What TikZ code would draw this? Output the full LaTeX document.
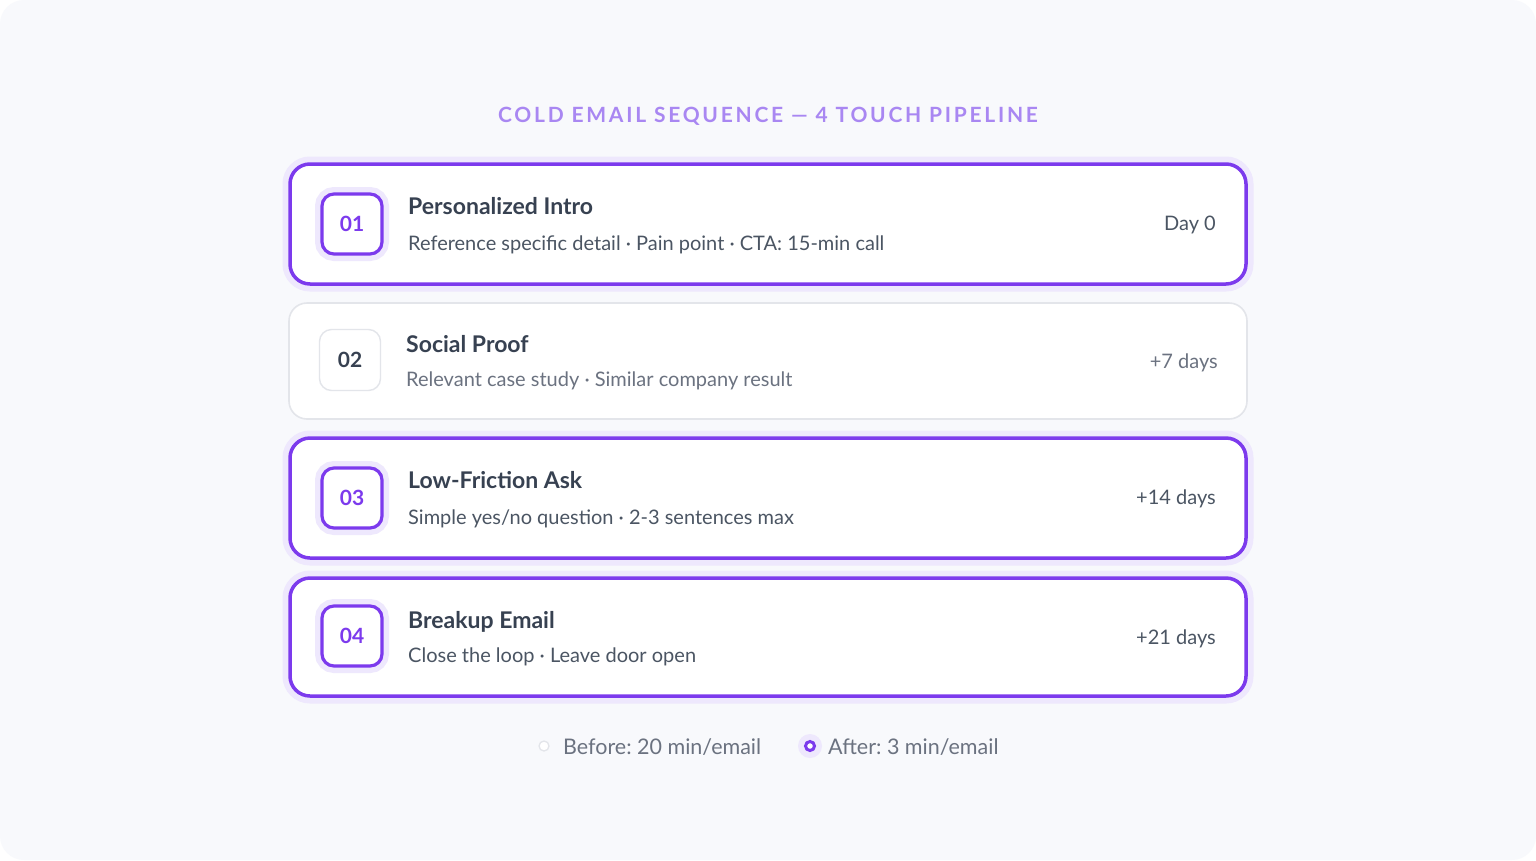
\documentclass[tikz,border=0pt]{standalone}
\usepackage{fontspec}
\setmainfont{Lato}
\frenchspacing
\definecolor{bgc}{HTML}{F8F9FC}
\definecolor{pur}{HTML}{7C3AED}
\definecolor{halo}{HTML}{EEE8FD}
\definecolor{ttl}{HTML}{A987F2}
\definecolor{dark}{HTML}{374151}
\definecolor{mid}{HTML}{4B5563}
\definecolor{soft}{HTML}{6B7280}
\definecolor{lgray}{HTML}{E3E5EA}
\tikzset{
  cardon/.style={rectangle, rounded corners=20pt, fill=white, draw=pur, line width=3.5pt,
     preaction={draw=halo, line width=15pt}, inner sep=0pt},
  cardoff/.style={rectangle, rounded corners=18pt, fill=white, draw=lgray, line width=1.6pt, inner sep=0pt},
  badgeon/.style={rectangle, rounded corners=12pt, fill=white, draw=pur, line width=3.2pt,
     preaction={draw=halo, line width=14pt}, minimum size=60pt, inner sep=0pt,
     font=\fontsize{21}{24}\selectfont\bfseries, text=pur},
  badgeoff/.style={rectangle, rounded corners=12pt, fill=white, draw=lgray, line width=1.4pt,
     minimum size=61pt, inner sep=0pt, font=\fontsize{21}{24}\selectfont\bfseries, text=dark},
  ctitle/.style={anchor=base west, inner sep=0pt, font=\fontsize{23}{27}\selectfont\bfseries, text=dark},
  csub/.style={anchor=base west, inner sep=0pt, font=\fontsize{20}{24}\selectfont, text=mid},
  cday/.style={anchor=base east, inner sep=0pt, font=\fontsize{20}{24}\selectfont, text=mid},
  legtxt/.style={anchor=base west, inner sep=0pt, font=\fontsize{21.5}{25}\selectfont, text=soft},
}
\begin{document}
\begin{tikzpicture}[x=1pt,y=-1pt]
\useasboundingbox (0,0) rectangle (1536,860);
\fill[white] (0,0) rectangle (1536,860);
\fill[bgc, rounded corners=24pt] (0,0) rectangle (1536,860);

\node[anchor=base, inner sep=0pt, text=ttl, font=\fontsize{21}{25}\selectfont\bfseries\addfontfeature{LetterSpace=13}] (head) at (768,122) {COLD EMAIL SEQUENCE — 4 TOUCH PIPELINE};

% card 1
\node[cardon, minimum width=956pt, minimum height=120pt] (c1) at (768,224) {};
\node[badgeon] (b1) at (352,224) {01};
\node[ctitle] (t1) at (408,214) {Personalized Intro};
\node[csub] (s1) at (408,250) {Reference specific detail · Pain point · CTA: 15-min call};
\node[cday] (d1) at (1216,230) {Day 0};

% card 2
\node[cardoff, minimum width=958pt, minimum height=116pt] (c2) at (768,361) {};
\node[badgeoff] (b2) at (350,360) {02};
\node[ctitle, text=dark] (t2) at (406,352) {Social Proof};
\node[csub, text=soft] (s2) at (406,386) {Relevant case study · Similar company result};
\node[cday, text=soft] (d2) at (1218,368) {+7 days};

% card 3
\node[cardon, minimum width=956pt, minimum height=120pt] (c3) at (768,498) {};
\node[badgeon] (b3) at (352,498) {03};
\node[ctitle] (t3) at (408,488) {Low-Friction Ask};
\node[csub] (s3) at (408,524) {Simple yes/no question · 2-3 sentences max};
\node[cday] (d3) at (1216,504) {+14 days};

% card 4
\node[cardon, minimum width=956pt, minimum height=118pt] (c4) at (768,637) {};
\node[badgeon] (b4) at (352,636) {04};
\node[ctitle] (t4) at (408,628) {Breakup Email};
\node[csub] (s4) at (408,662) {Close the loop · Leave door open};
\node[cday] (d4) at (1216,644) {+21 days};

% legend
\node[circle, draw=lgray, line width=1.3pt, fill=white, minimum size=10pt, inner sep=0pt] (l1) at (544,746) {};
\node[legtxt] (lt1) at (563,754) {Before: 20 min/email};
\node[circle, fill=halo, minimum size=24pt, inner sep=0pt] (l2h) at (810,746) {};
\node[circle, draw=pur, line width=3pt, fill=white, minimum size=9pt, inner sep=0pt] (l2) at (810,746) {};
\node[legtxt] (lt2) at (828,754) {After: 3 min/email};
\end{tikzpicture}
\end{document}
